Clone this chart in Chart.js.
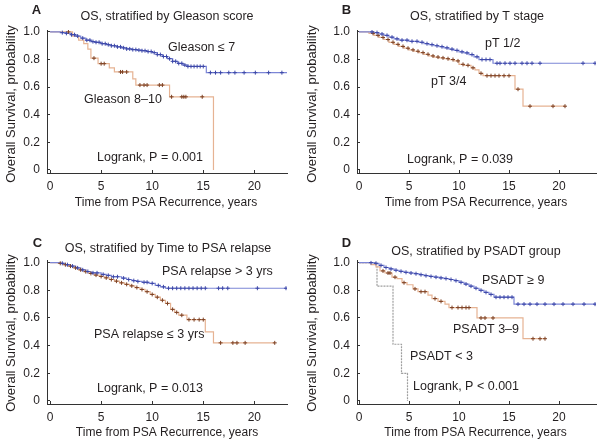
<!DOCTYPE html>
<html><head><meta charset="utf-8">
<script src="https://cdn.jsdelivr.net/npm/chart.js@4.4.1/dist/chart.umd.min.js"></script>
<style>
html,body{margin:0;padding:0;background:#fff;}
#wrap{position:relative;width:603px;height:446px;overflow:hidden;}
#wrap canvas{position:absolute;left:0;top:0;}
</style></head><body><div id="wrap">
<canvas id="cA" width="603" height="446"></canvas>
<canvas id="cB" width="603" height="446"></canvas>
<canvas id="cC" width="603" height="446"></canvas>
<canvas id="cD" width="603" height="446"></canvas>
</div>
<script>
// ---------- DATA ----------
const xTickValues = [0, 5, 10, 15, 20];
const yTickValues = [0, 0.2, 0.4, 0.6, 0.8, 1.0];
const yTickLabels = ['0', '0.2', '0.4', '0.6', '0.8', '1.0'];

// Panel A: Gleason score
const gleasonLowTime = [0,1.0,1.5,2.0,2.5,3.0,3.5,4.0,4.5,5.0,5.5,6.0,6.5,7.0,7.5,8.0,8.5,9.0,9.5,10.0,10.5,11.0,11.5,12.0,12.5,13.0,13.5,15.3,23.2];
const gleasonLowSurv = [1,0.995,0.99,0.98,0.97,0.955,0.94,0.93,0.925,0.915,0.908,0.90,0.892,0.885,0.877,0.872,0.868,0.864,0.858,0.85,0.836,0.822,0.806,0.787,0.772,0.76,0.75,0.705,0.705];
const gleasonLowCensor = [1.2,1.6,2.1,2.4,2.7,3.2,3.6,3.9,4.2,4.5,4.8,5.1,5.4,5.7,6.0,6.3,6.6,6.9,7.2,7.5,7.8,8.1,8.4,8.7,9.0,9.3,9.6,9.9,10.2,10.5,10.8,11.1,11.4,11.7,12.0,12.3,12.6,12.9,13.2,13.5,13.8,14.1,14.4,14.7,15.0,15.7,16.2,16.7,17.5,18.1,19.0,20.1,21.4,22.7];
const gleasonHighTime = [0,2.2,2.8,3.3,3.7,4.0,4.7,5.8,6.3,8.1,8.4,11.7,16.0];
const gleasonHighSurv = [1,0.97,0.94,0.915,0.875,0.81,0.77,0.74,0.71,0.66,0.615,0.53,0];
const gleasonHighCensor = [1.8,4.3,5.0,5.3,6.9,7.1,7.5,8.8,9.2,9.5,10.7,11.0,11.9,12.9,13.1,13.3,14.9];

// Panel B: T stage
const ptLowTime = [0,1.5,2.0,2.5,3.0,3.5,4.0,5.0,6.0,6.5,7.0,7.5,8.0,8.5,9.0,9.5,10.0,10.5,11.0,11.5,12.0,13.4,23.7];
const ptLowSurv = [1,0.995,0.985,0.975,0.962,0.95,0.94,0.932,0.925,0.915,0.908,0.9,0.893,0.885,0.875,0.866,0.856,0.848,0.836,0.82,0.80,0.773,0.773];
const ptLowCensor = [1.3,1.8,2.3,2.8,3.3,3.8,4.3,4.8,5.3,5.8,6.3,6.8,7.3,7.8,8.3,8.8,9.3,9.8,10.3,10.8,11.3,11.8,12.3,12.7,13.1,13.8,14.1,14.6,15.1,15.6,16.3,16.8,17.3,18.1,22.4,23.6];
const ptHighTime = [0,1.0,1.5,2.0,2.5,3.0,3.5,4.0,4.5,5.0,5.5,6.0,6.5,7.0,7.5,8.0,8.5,9.0,9.5,10.0,10.5,11.2,11.6,12.0,12.4,15.6,16.4,20.6];
const ptHighSurv = [1,0.99,0.975,0.96,0.945,0.925,0.91,0.895,0.882,0.87,0.86,0.85,0.838,0.826,0.818,0.812,0.806,0.80,0.79,0.765,0.758,0.74,0.725,0.70,0.683,0.585,0.462,0.462];
const ptHighCensor = [1.4,1.9,2.4,2.9,3.4,3.9,4.4,4.9,5.4,5.9,6.4,6.9,7.4,7.9,8.4,8.9,9.4,9.9,10.4,10.9,11.4,12.2,12.8,13.2,13.6,14.0,14.5,15.0,15.9,17.1,19.4,20.6];

// Panel C: Time to PSA relapse
const relapseLateTime = [0,1.0,1.5,2.0,2.5,3.0,3.5,4.0,5.0,5.5,6.0,7.0,7.5,8.0,8.5,9.0,9.7,10.3,10.8,11.3,23.2];
const relapseLateSurv = [1,0.995,0.985,0.975,0.962,0.948,0.936,0.926,0.915,0.908,0.898,0.888,0.878,0.87,0.864,0.858,0.85,0.835,0.825,0.815,0.815];
const relapseLateCensor = [1.2,1.7,2.2,2.7,3.2,3.7,4.2,4.6,5.2,5.7,6.2,6.6,7.2,7.7,8.2,8.6,9.2,9.5,10.0,10.6,11.1,11.6,12.0,12.4,12.8,13.2,13.6,14.0,14.4,14.8,15.2,16.5,16.9,17.4,20.3,23.1];
const relapseEarlyTime = [0,0.8,1.3,1.8,2.3,2.8,3.3,3.8,4.3,4.8,5.3,5.8,6.3,6.8,7.3,7.8,8.3,8.8,9.3,9.8,10.3,10.8,11.3,11.8,12.2,12.6,13.4,15.2,16.0,22.0];
const relapseEarlySurv = [1,0.995,0.985,0.975,0.962,0.948,0.935,0.922,0.91,0.9,0.89,0.878,0.866,0.854,0.843,0.832,0.82,0.806,0.79,0.77,0.75,0.728,0.705,0.662,0.64,0.62,0.588,0.50,0.42,0.42];
const relapseEarlyCensor = [1.0,1.5,2.0,2.5,3.0,3.5,4.0,4.5,5.0,5.5,6.0,6.5,7.0,7.5,8.0,8.5,9.0,9.5,10.0,10.5,11.0,11.5,12.0,12.4,12.9,13.6,14.1,14.6,15.0,16.7,17.9,18.3,19.1,22.0];

// Panel D: PSADT group
const psadtHighTime = [0,1.5,2.0,2.5,3.0,3.5,4.0,4.5,5.0,5.5,6.0,6.5,7.0,7.5,8.0,8.5,9.0,9.5,10.0,10.5,11.0,11.5,12.0,12.5,13.0,13.5,15.5,23.7];
const psadtHighSurv = [1,0.995,0.98,0.965,0.955,0.945,0.937,0.93,0.925,0.92,0.913,0.906,0.90,0.895,0.89,0.885,0.878,0.87,0.858,0.845,0.83,0.815,0.80,0.785,0.77,0.75,0.70,0.70];
const psadtHighCensor = [1.2,1.7,2.2,2.7,3.2,3.7,4.2,4.7,5.2,5.7,6.2,6.7,7.2,7.7,8.2,8.7,9.2,9.7,10.2,10.7,11.2,11.7,12.2,12.7,13.2,13.7,14.1,14.5,14.9,15.3,15.9,16.5,17.1,17.8,18.6,19.5,20.4,21.4,22.5,23.6];
const psadtMidTime = [0,1.2,1.7,2.1,2.6,3.3,3.8,4.3,4.8,5.4,5.9,6.9,7.3,7.9,8.6,9.0,11.8,16.4,18.6];
const psadtMidSurv = [1,0.985,0.97,0.94,0.925,0.895,0.885,0.855,0.84,0.81,0.79,0.765,0.74,0.72,0.70,0.675,0.60,0.45,0.45];
const psadtMidCensor = [2.4,2.9,3.1,3.6,4.5,5.6,6.2,6.6,7.6,8.2,9.3,9.9,10.3,10.7,11.0,12.2,12.6,13.4,17.4,18.1,18.6];
const psadtLowTime = [0,1.8,3.4,4.25,4.85];
const psadtLowSurv = [1,0.83,0.41,0.2,0];
const psadtLowCensor = [];

// ---------- RENDERING ----------
const FONT = "'Liberation Sans', Arial, sans-serif";
const BLUE_LINE = '#7c86d6', BLUE_MARK = '#3c47a8';
const BROWN_LINE = '#e6b393', BROWN_MARK = '#7d4123';
const GRAY_LINE = '#9e9e9e', GRAY_MARK = '#8a8a8a';

function survAt(times, surv, t) {
  let s = surv[0];
  for (let i = 0; i < times.length; i++) if (times[i] <= t) s = surv[i];
  return s;
}
function curveSets(times, surv, censor, lineColor, markColor, dash) {
  return [
    { type: 'line', data: times.map((t, i) => ({ x: t, y: surv[i] })), stepped: 'before',
      borderColor: lineColor, borderWidth: 1.2, borderDash: dash || [], pointRadius: 0, fill: false, order: 2 },
    { type: 'scatter', data: censor.map(t => ({ x: t, y: survAt(times, surv, t) })),
      pointStyle: 'cross', pointRadius: 2, borderColor: markColor, borderWidth: 1, backgroundColor: markColor, order: 1 }
  ];
}

const textPlugin = {
  id: 'panelText',
  afterDraw(chart, args, opts) {
    const ctx = chart.ctx;
    (opts.items || []).forEach(it => {
      ctx.save();
      ctx.font = it.font;
      ctx.fillStyle = '#231f20';
      ctx.textAlign = it.align || 'left';
      ctx.textBaseline = 'middle';
      if (it.rotate) { ctx.translate(it.x, it.y); ctx.rotate(-Math.PI / 2); ctx.fillText(it.text, 0, 0); }
      else ctx.fillText(it.text, it.x, it.y);
      ctx.restore();
    });
  }
};

const F_LET = "bold 13px " + FONT, F_TXT = "12.5px " + FONT, F_AX = "12px " + FONT, F_YT = "13px " + FONT;

function makePanel(id, g, datasets, texts) {
  new Chart(document.getElementById(id), {
    data: { datasets },
    options: {
      responsive: false, animation: false, devicePixelRatio: 1,
      layout: { padding: { left: g.panelLeft, top: g.top, right: 603 - g.right, bottom: 446 - g.panelBottom } },
      plugins: { legend: { display: false }, tooltip: { enabled: false }, panelText: { items: texts } },
      scales: {
        x: {
          type: 'linear', min: g.xMin, max: g.xMax,
          afterBuildTicks: s => { s.ticks = xTickValues.map(v => ({ value: v })); },
          afterFit: s => { s.height = g.panelBottom - g.bottom; },
          ticks: { font: { family: FONT, size: 12 }, color: '#231f20', padding: 9, maxRotation: 0, autoSkip: false },
          grid: { drawOnChartArea: false, drawTicks: true, tickLength: -3, color: '#333' },
          border: { display: true, color: '#333', width: 1 }
        },
        y: {
          type: 'linear', min: -0.022, max: 1.014,
          afterBuildTicks: s => { s.ticks = yTickValues.map(v => ({ value: v })); },
          afterFit: s => { s.width = g.left - g.panelLeft; },
          ticks: { font: { family: FONT, size: 12 }, color: '#231f20', padding: 10, autoSkip: false,
                   callback: (v, i) => yTickLabels[i] },
          grid: { drawOnChartArea: false, drawTicks: true, tickLength: -3, color: '#333' },
          border: { display: true, color: '#333', width: 1 }
        }
      }
    },
    plugins: [textPlugin]
  });
}

const gA = { panelLeft: 0, panelBottom: 220, left: 47, right: 287, top: 30, bottom: 173, xMin: -0.3, xMax: 23.2 };
const gB = { panelLeft: 300, panelBottom: 220, left: 357, right: 596, top: 30, bottom: 173, xMin: -0.2, xMax: 23.7 };
const gC = { panelLeft: 0, panelBottom: 446, left: 47, right: 287, top: 260.7, bottom: 404, xMin: -0.3, xMax: 23.2 };
const gD = { panelLeft: 300, panelBottom: 446, left: 357, right: 596, top: 260.7, bottom: 404, xMin: -0.2, xMax: 23.7 };

makePanel('cA', gA, [
  ...curveSets(gleasonLowTime, gleasonLowSurv, gleasonLowCensor, BLUE_LINE, BLUE_MARK),
  ...curveSets(gleasonHighTime, gleasonHighSurv, gleasonHighCensor, BROWN_LINE, BROWN_MARK)
], [
  { text: 'A', x: 36.5, y: 10.5, font: F_LET, align: 'center' },
  { text: 'OS, stratified by Gleason score', x: 167, y: 17, font: F_TXT, align: 'center' },
  { text: 'Gleason ≤ 7', x: 168, y: 48, font: F_TXT },
  { text: 'Gleason 8–10', x: 84, y: 100, font: F_TXT },
  { text: 'Logrank, P = 0.001', x: 97, y: 158, font: F_TXT },
  { text: 'Time from PSA Recurrence, years', x: 166, y: 203, font: F_AX, align: 'center' },
  { text: 'Overall Survival, probability', x: 11.5, y: 104, font: F_YT, align: 'center', rotate: true }
]);

makePanel('cB', gB, [
  ...curveSets(ptLowTime, ptLowSurv, ptLowCensor, BLUE_LINE, BLUE_MARK),
  ...curveSets(ptHighTime, ptHighSurv, ptHighCensor, BROWN_LINE, BROWN_MARK)
], [
  { text: 'B', x: 346.5, y: 10.5, font: F_LET, align: 'center' },
  { text: 'OS, stratified by T stage', x: 477, y: 17, font: F_TXT, align: 'center' },
  { text: 'pT 1/2', x: 485, y: 44, font: F_TXT },
  { text: 'pT 3/4', x: 431, y: 82, font: F_TXT },
  { text: 'Logrank, P = 0.039', x: 407, y: 160, font: F_TXT },
  { text: 'Time from PSA Recurrence, years', x: 476, y: 203, font: F_AX, align: 'center' },
  { text: 'Overall Survival, probability', x: 312.5, y: 104, font: F_YT, align: 'center', rotate: true }
]);

makePanel('cC', gC, [
  ...curveSets(relapseLateTime, relapseLateSurv, relapseLateCensor, BLUE_LINE, BLUE_MARK),
  ...curveSets(relapseEarlyTime, relapseEarlySurv, relapseEarlyCensor, BROWN_LINE, BROWN_MARK)
], [
  { text: 'C', x: 37.5, y: 243, font: F_LET, align: 'center' },
  { text: 'OS, stratified by Time to PSA relapse', x: 168, y: 249, font: F_TXT, align: 'center' },
  { text: 'PSA relapse > 3 yrs', x: 162, y: 272, font: F_TXT },
  { text: 'PSA relapse ≤ 3 yrs', x: 94, y: 335, font: F_TXT },
  { text: 'Logrank, P = 0.013', x: 97, y: 389, font: F_TXT },
  { text: 'Time from PSA Recurrence, years', x: 167, y: 432.5, font: F_AX, align: 'center' },
  { text: 'Overall Survival, probability', x: 11, y: 333, font: F_YT, align: 'center', rotate: true }
]);

makePanel('cD', gD, [
  ...curveSets(psadtHighTime, psadtHighSurv, psadtHighCensor, BLUE_LINE, BLUE_MARK),
  ...curveSets(psadtMidTime, psadtMidSurv, psadtMidCensor, BROWN_LINE, BROWN_MARK),
  ...curveSets(psadtLowTime, psadtLowSurv, psadtLowCensor, GRAY_LINE, GRAY_MARK, [2, 1])
], [
  { text: 'D', x: 346.5, y: 243.3, font: F_LET, align: 'center' },
  { text: 'OS, stratified by PSADT group', x: 476, y: 252, font: F_TXT, align: 'center' },
  { text: 'PSADT ≥ 9', x: 482, y: 281, font: F_TXT },
  { text: 'PSADT 3–9', x: 453, y: 330, font: F_TXT },
  { text: 'PSADT < 3', x: 410, y: 357, font: F_TXT },
  { text: 'Logrank, P < 0.001', x: 413, y: 387, font: F_TXT },
  { text: 'Time from PSA Recurrence, years', x: 475.5, y: 433, font: F_AX, align: 'center' },
  { text: 'Overall Survival, probability', x: 312, y: 333, font: F_YT, align: 'center', rotate: true }
]);
</script>
</body></html>
